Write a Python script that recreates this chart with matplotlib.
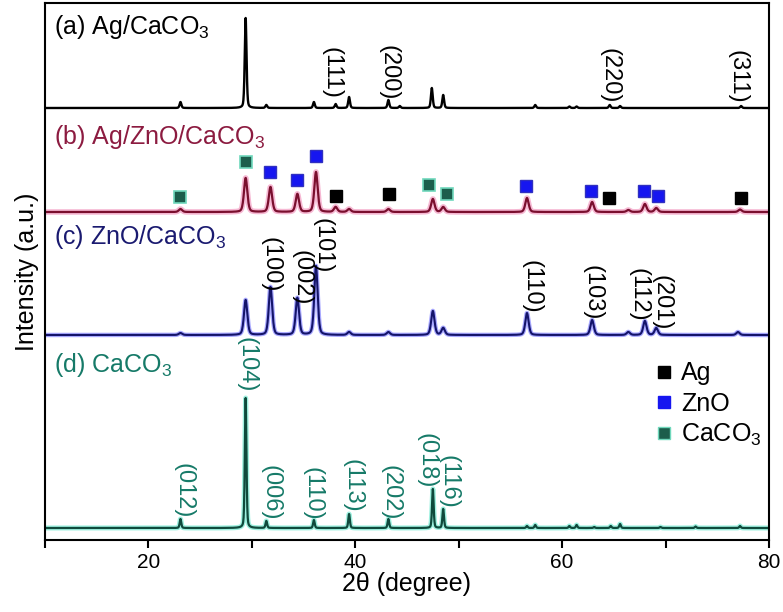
import numpy as np
import matplotlib
matplotlib.use("Agg")
import matplotlib.pyplot as plt
from matplotlib.lines import Line2D
from matplotlib.ticker import MultipleLocator

plt.rcParams["font.family"] = ["Liberation Sans", "DejaVu Sans"]
plt.rcParams["mathtext.fontset"] = "custom"
plt.rcParams["mathtext.rm"] = "Liberation Sans"
plt.rcParams["mathtext.it"] = "Liberation Sans"

# peak lists: position (2theta), height (a.u.)
a_pos = [23.1, 29.4, 31.4, 36.0, 38.1, 39.4, 43.2, 44.3, 47.4, 48.5, 57.4, 60.7, 61.4, 64.6, 65.6, 77.3]
a_hgt = [6, 90, 3, 6, 4, 11, 8, 2, 20, 13, 3, 1.5, 1.5, 3, 2, 2]

b_pos = [23.1, 29.4, 31.8, 34.4, 36.2, 38.1, 39.4, 43.2, 47.5, 48.5, 56.6, 62.9, 66.4, 68.0, 69.1, 77.2]
b_hgt = [3, 34, 25, 18, 40, 5, 3, 3, 13, 5, 14, 10, 2, 8, 4, 2.5]

c_pos = [23.1, 29.4, 31.8, 34.4, 36.2, 39.4, 43.2, 47.5, 48.5, 56.6, 62.9, 66.4, 68.0, 69.1, 77.0]
c_hgt = [2, 35, 48, 37, 69, 3, 3, 24, 7, 22, 15, 3, 14, 7, 3]

d_pos = [23.1, 29.4, 31.4, 36.0, 39.4, 43.2, 47.5, 48.5, 56.6, 57.4, 60.7, 61.4, 63.1, 64.7, 65.6, 69.5, 72.9, 77.2]
d_hgt = [9, 130, 7, 8, 14, 9, 39, 19, 2, 3, 2, 3, 1, 2, 4, 1, 1.5, 2]

# phase markers on pattern (b)
ag_mark_x = [38.1, 43.3, 64.5, 77.3]
ag_mark_y = [344, 346, 342, 342]
zno_mark_x = [31.8, 34.4, 36.2, 56.5, 62.8, 67.9, 69.3]
zno_mark_y = [368, 360, 384, 354, 349, 349, 344]
cc_mark_x = [23.1, 29.4, 47.1, 48.9]
cc_mark_y = [343, 378, 355, 346]

# hkl labels: text, x, top
a_hkl = ["(111)", "(200)", "(220)", "(311)"]
a_hkl_x = [37.7, 43.2, 64.6, 77.0]
a_hkl_y = [493, 495, 492, 490]
c_hkl = ["(100)", "(002)", "(101)", "(110)", "(103)", "(112)", "(201)"]
c_hkl_x = [31.8, 34.8, 36.8, 57.0, 62.9, 67.4, 69.6]
c_hkl_y = [303, 290, 322, 280, 275, 272, 265]
d_hkl = ["(012)", "(104)", "(006)", "(110)", "(113)", "(202)", "(018)", "(116)"]
d_hkl_x = [23.4, 29.5, 31.8, 35.9, 39.7, 43.4, 46.9, 49.0]
d_hkl_y = [77, 203, 75, 73, 81, 75, 107, 85]

offsets = [432, 328, 205, 12]

x = np.arange(10, 80.001, 0.02)


def pattern(pos, hgt, w):
    y = np.zeros_like(x)
    for p, h in zip(pos, hgt):
        g = np.exp(-0.5 * ((x - p) / w) ** 2)
        l = 1.0 / (1.0 + ((x - p) / w) ** 2)
        y += h * (0.6 * g + 0.4 * l)
    return y


fig = plt.figure(figsize=(7.83, 6.12), dpi=100)
ax = fig.add_axes([45 / 783, 1 - 540 / 612, 724 / 783, 537 / 612])

ya = pattern(a_pos, a_hgt, 0.09) + offsets[0]
yb = pattern(b_pos, b_hgt, 0.17) + offsets[1]
yc = pattern(c_pos, c_hgt, 0.17) + offsets[2]
yd = pattern(d_pos, d_hgt, 0.08) + offsets[3]

ax.plot(x, ya, color="black", lw=1.7)
ax.plot(x, yb, color="#f4a6c8", lw=4.0, alpha=0.8)
ax.plot(x, yb, color="#7a0f2e", lw=1.6)
ax.plot(x, yc, color="#7070ff", lw=3.2, alpha=0.6)
ax.plot(x, yc, color="#14146a", lw=1.5)
ax.plot(x, yd, color="#60e8cc", lw=3.6, alpha=0.6)
ax.plot(x, yd, color="#0f4a3c", lw=1.6)

ax.plot(ag_mark_x, ag_mark_y, "s", color="black", ms=9, ls="")
ax.plot(zno_mark_x, zno_mark_y, "s", color="#1616f0", mec="#3030c0", ms=9, ls="")
ax.plot(cc_mark_x, cc_mark_y, "s", color="#1c5e4c", mec="#70d8bc", mew=1.2, ms=9, ls="")

for t, xx, yy in zip(a_hkl, a_hkl_x, a_hkl_y):
    ax.text(xx, yy, t, rotation=270, ha="center", va="top", fontsize=17, color="black")
for t, xx, yy in zip(c_hkl, c_hkl_x, c_hkl_y):
    ax.text(xx, yy, t, rotation=270, ha="center", va="top", fontsize=17, color="black")
for t, xx, yy in zip(d_hkl, d_hkl_x, d_hkl_y):
    ax.text(xx, yy, t, rotation=270, ha="center", va="top", fontsize=17, color="#167a68")

ax.text(10.9, 513, "(a) Ag/CaCO$_3$", fontsize=18, color="black", va="center")
ax.text(10.9, 403, "(b) Ag/ZnO/CaCO$_3$", fontsize=18, color="#8c1b40", va="center")
ax.text(10.9, 303, "(c) ZnO/CaCO$_3$", fontsize=18, color="#1a1a70", va="center")
ax.text(10.9, 175, "(d) CaCO$_3$", fontsize=18, color="#167a68", va="center")

handles = [
    Line2D([], [], marker="s", ls="", color="black", ms=9),
    Line2D([], [], marker="s", ls="", color="#1616f0", ms=9),
    Line2D([], [], marker="s", ls="", color="#1c5e4c", mec="#70d8bc", ms=9),
]
ax.legend(handles, ["Ag", "ZnO", "CaCO$_3$"], loc="upper left",
          bbox_to_anchor=(0.82, 0.365), frameon=False, fontsize=18,
          handlelength=0.6, handletextpad=0.4, labelspacing=0.25, borderpad=0.2)

ax.set_xlim(10, 80)
ax.set_ylim(0, 537)
ax.set_yticks([])
ax.xaxis.set_major_locator(MultipleLocator(20))
ax.xaxis.set_minor_locator(MultipleLocator(10))
ax.tick_params(axis="x", which="both", direction="out", length=6, width=1.5, labelsize=15)
for s in ax.spines.values():
    s.set_linewidth(1.5)
ax.set_xlabel("2\u03b8 (degree)", fontsize=18, labelpad=0)
ax.set_ylabel("Intensity (a.u.)", fontsize=18, labelpad=4)

fig.savefig("out.png", dpi=100)
